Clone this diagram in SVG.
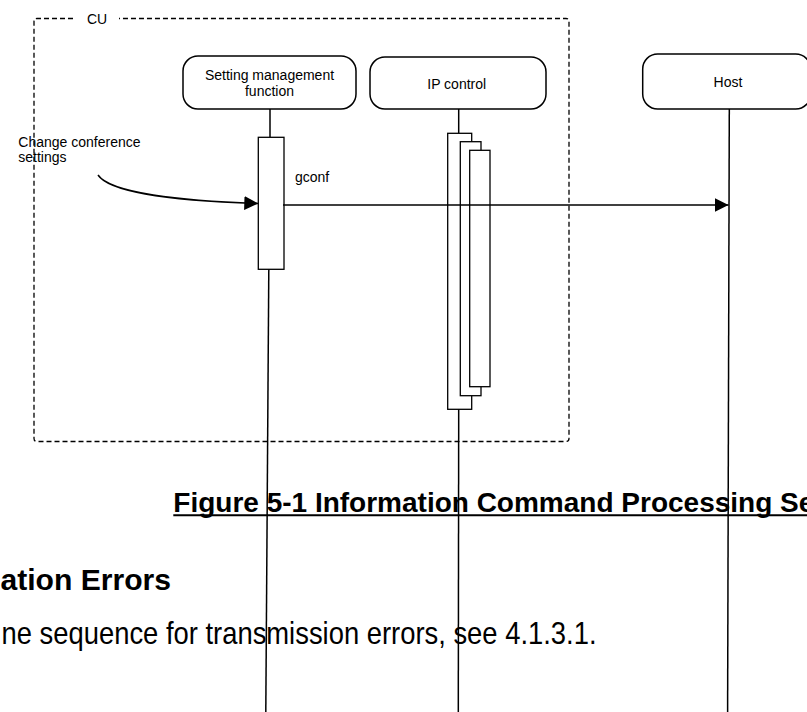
<svg xmlns="http://www.w3.org/2000/svg" width="807" height="712" viewBox="0 0 807 712">
<style>
.bg{fill:#fff}
.box{fill:#fff;stroke:#000;stroke-width:1.5}
.act{fill:#fff;stroke:#000;stroke-width:1.3}
.ln{fill:none;stroke:#000;stroke-width:1.5}
.dash{fill:none;stroke:#000;stroke-width:1.3;stroke-dasharray:5 3}
.t{font-family:"Liberation Sans",Arial,sans-serif;font-size:14px;fill:#000}
.c{text-anchor:middle}
.doc{font-family:"Liberation Sans",Arial,sans-serif;fill:#000}
</style>
<defs>
<marker id="arr" markerUnits="userSpaceOnUse" markerWidth="14" markerHeight="14" refX="14" refY="7" orient="auto">
<path d="M0,0 L14,7 L0,14 z" fill="#000"/>
</marker>
</defs>
<rect class="bg" x="0" y="0" width="807" height="712"/>

<g id="cu-frame">
<path class="dash" d="M73,18.5 H37 Q34,18.5 34,21.5 V438.5 Q34,441.5 37,441.5 H566 Q569,441.5 569,438.5 V21.5 Q569,18.5 566,18.5 H119"/>
<text class="t" x="87" y="24">CU</text>
</g>

<g id="lifelines">
<line class="ln" x1="270" y1="109" x2="270" y2="137"/>
<line class="ln" x1="268.8" y1="269" x2="265.8" y2="712"/>
<line class="ln" x1="458.7" y1="109" x2="458.7" y2="133"/>
<line class="ln" x1="458.7" y1="409" x2="458.3" y2="712"/>
<line class="ln" x1="729.3" y1="109" x2="727.6" y2="712"/>
</g>

<g id="setting-management">
<rect class="box" x="183" y="56" width="173" height="53" rx="15"/>
<text class="t c" x="269.5" y="80">Setting management</text>
<text class="t c" x="269.5" y="95.5">function</text>
<rect class="act" x="258.3" y="137.3" width="25.7" height="132"/>
</g>

<g id="ip-control">
<rect class="box" x="370" y="57" width="176" height="52" rx="15"/>
<text class="t c" x="456.7" y="89">IP control</text>
<rect class="act" x="447.7" y="133.3" width="24" height="276"/>
<rect class="act" x="460.3" y="141.7" width="20.7" height="254"/>
<rect class="act" x="469.7" y="150.3" width="20.3" height="236.4"/>
</g>

<g id="host">
<rect class="box" x="642.7" y="54" width="168" height="55" rx="15"/>
<text class="t c" x="728" y="87.3">Host</text>
</g>

<g id="external-input">
<text class="t" x="18.3" y="147">Change conference</text>
<text class="t" x="18.3" y="162">settings</text>
</g>

<g id="connectors">
<path class="ln" d="M98,175 C110,193 180,201 258.3,203.5" marker-end="url(#arr)"/>
<line class="ln" x1="283" y1="205" x2="728.5" y2="205" marker-end="url(#arr)"/>
<text class="t" x="295" y="182">gconf</text>
</g>

<g id="document-text">
<text class="doc" x="173.3" y="512" font-size="28" font-weight="bold">Figure 5-1 Information Command Processing Se</text>
<line x1="173.3" y1="515.3" x2="807" y2="515.3" stroke="#000" stroke-width="2"/>
<text class="doc" x="0.5" y="590" font-size="30" font-weight="bold" textLength="170.5" lengthAdjust="spacingAndGlyphs">ation Errors</text>
<text class="doc" x="1.5" y="644" font-size="32" textLength="595" lengthAdjust="spacingAndGlyphs">ne sequence for transmission errors, see 4.1.3.1.</text>
</g>
</svg>
